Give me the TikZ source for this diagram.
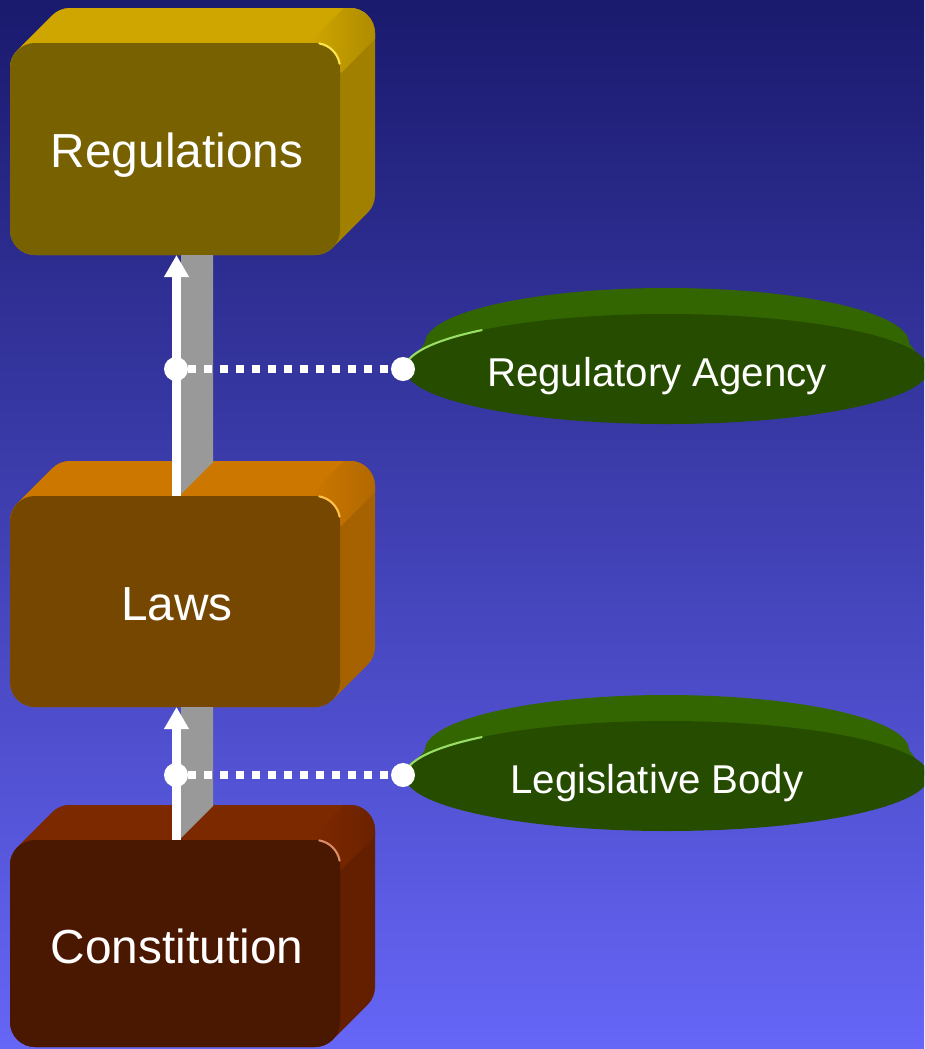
\documentclass[tikz,border=0pt]{standalone}
\usepackage{fontspec}
\setmainfont{Liberation Sans}
\usepackage{tikz}
\usetikzlibrary{arrows.meta}
\definecolor{bgtop}{rgb}{0.10,0.10,0.43}
\definecolor{bgbot}{rgb}{0.40,0.40,0.97}
\definecolor{regfront}{rgb}{0.47,0.38,0}
\definecolor{regtop}{rgb}{0.81,0.65,0}
\definecolor{regside}{rgb}{0.63,0.50,0}
\definecolor{regshine}{rgb}{0.89,0.73,0}
\definecolor{reglight}{rgb}{1,0.90,0.30}
\definecolor{lawfront}{rgb}{0.46,0.28,0}
\definecolor{lawtop}{rgb}{0.80,0.47,0}
\definecolor{lawside}{rgb}{0.65,0.38,0}
\definecolor{lawshine}{rgb}{0.88,0.53,0}
\definecolor{lawlight}{rgb}{1,0.75,0.30}
\definecolor{confront}{rgb}{0.29,0.09,0}
\definecolor{contop}{rgb}{0.49,0.16,0}
\definecolor{conside}{rgb}{0.39,0.12,0}
\definecolor{conshine}{rgb}{0.54,0.19,0}
\definecolor{conlight}{rgb}{0.85,0.55,0.40}
\definecolor{grnfront}{rgb}{0.15,0.30,0}
\definecolor{grnside}{rgb}{0.20,0.40,0}
\definecolor{grnlight}{rgb}{0.60,0.87,0.40}
\definecolor{shaftgray}{rgb}{0.60,0.60,0.60}

\begin{document}
\begin{tikzpicture}[line cap=round,line join=round,x=0.02cm,y=0.02cm,
  boxtext/.style={text=white,anchor=base,inner sep=0pt,font=\fontsize{27.2}{31}\selectfont},
  ovaltext/.style={text=white,anchor=base,inner sep=0pt,font=\fontsize{22.9}{27}\selectfont},
  dot/.style={circle,fill=white,minimum size=0.48cm,inner sep=0pt},
  uparrow/.style={white,line cap=butt,line width=0.17cm,-{Triangle[length=0.44cm,width=0.47cm]}},
  dotline/.style={white,line cap=butt,line width=0.16cm,dash pattern=on 0.16cm off 0.16cm},
  corner/.style={line width=1.2pt}]
	\clip(0,-1049) rectangle (924,0);
	\shade[top color=bgtop,bottom color=bgbot] (0,-1049) rectangle (924,0);
	% regulations box
	\fill[regside] (35,-255) arc[start angle=270,end angle=180,radius=25] -- ++(0,162) arc[start angle=180,end angle=135,radius=25] -- ++(35,35) arc[start angle=135,end angle=90,radius=25] -- ++(280,0) arc[start angle=90,end angle=0,radius=25] -- ++(0,-162) arc[start angle=0,end angle=-45,radius=25] -- ++(-35,-35) arc[start angle=-45,end angle=-90,radius=25] -- cycle;
	\begin{scope}
		\clip (35,-255) arc[start angle=270,end angle=180,radius=25] -- ++(0,162) arc[start angle=180,end angle=135,radius=25] -- ++(35,35) arc[start angle=135,end angle=90,radius=25] -- ++(280,0) arc[start angle=90,end angle=0,radius=25] -- ++(0,-162) arc[start angle=0,end angle=-45,radius=25] -- ++(-35,-35) arc[start angle=-45,end angle=-90,radius=25] -- cycle;
		\fill[regtop] (0,-110) -- (0,2) -- (385,2) -- (273,-110) -- cycle;
		\begin{scope}[shift={(332.7,-50.3)},rotate=-45]
			\shade[left color=regtop,middle color=regshine,right color=regside] (-22,-10) rectangle (22,80);
		\end{scope}
	\end{scope}
	\fill[regfront,rounded corners=0.5cm] (10,-43) rectangle (340,-255);
	\draw[reglight,corner] (339.6,-63.7) arc[start angle=10,end angle=80,radius=25];
	% laws box
	\fill[lawside] (35,-707) arc[start angle=270,end angle=180,radius=25] -- ++(0,161) arc[start angle=180,end angle=135,radius=25] -- ++(35,35) arc[start angle=135,end angle=90,radius=25] -- ++(280,0) arc[start angle=90,end angle=0,radius=25] -- ++(0,-161) arc[start angle=0,end angle=-45,radius=25] -- ++(-35,-35) arc[start angle=-45,end angle=-90,radius=25] -- cycle;
	\begin{scope}
		\clip (35,-707) arc[start angle=270,end angle=180,radius=25] -- ++(0,161) arc[start angle=180,end angle=135,radius=25] -- ++(35,35) arc[start angle=135,end angle=90,radius=25] -- ++(280,0) arc[start angle=90,end angle=0,radius=25] -- ++(0,-161) arc[start angle=0,end angle=-45,radius=25] -- ++(-35,-35) arc[start angle=-45,end angle=-90,radius=25] -- cycle;
		\fill[lawtop] (0,-563) -- (0,-451) -- (385,-451) -- (273,-563) -- cycle;
		\begin{scope}[shift={(332.7,-503.3)},rotate=-45]
			\shade[left color=lawtop,middle color=lawshine,right color=lawside] (-22,-10) rectangle (22,80);
		\end{scope}
	\end{scope}
	\fill[lawfront,rounded corners=0.5cm] (10,-496) rectangle (340,-707);
	\draw[lawlight,corner] (339.6,-516.7) arc[start angle=10,end angle=80,radius=25];
	% constitution box
	\fill[conside] (35,-1047) arc[start angle=270,end angle=180,radius=25] -- ++(0,157) arc[start angle=180,end angle=135,radius=25] -- ++(35,35) arc[start angle=135,end angle=90,radius=25] -- ++(280,0) arc[start angle=90,end angle=0,radius=25] -- ++(0,-157) arc[start angle=0,end angle=-45,radius=25] -- ++(-35,-35) arc[start angle=-45,end angle=-90,radius=25] -- cycle;
	\begin{scope}
		\clip (35,-1047) arc[start angle=270,end angle=180,radius=25] -- ++(0,157) arc[start angle=180,end angle=135,radius=25] -- ++(35,35) arc[start angle=135,end angle=90,radius=25] -- ++(280,0) arc[start angle=90,end angle=0,radius=25] -- ++(0,-157) arc[start angle=0,end angle=-45,radius=25] -- ++(-35,-35) arc[start angle=-45,end angle=-90,radius=25] -- cycle;
		\fill[contop] (0,-907) -- (0,-795) -- (385,-795) -- (273,-907) -- cycle;
		\begin{scope}[shift={(332.7,-847.3)},rotate=-45]
			\shade[left color=contop,middle color=conshine,right color=conside] (-22,-10) rectangle (22,80);
		\end{scope}
	\end{scope}
	\fill[confront,rounded corners=0.5cm] (10,-840) rectangle (340,-1047);
	\draw[conlight,corner] (339.6,-860.7) arc[start angle=10,end angle=80,radius=25];
	% box labels
	\node[boxtext] (regs) at (177,-167) {Regulations};
	\node[boxtext] (laws) at (177,-620) {Laws};
	\node[boxtext] (const) at (177,-963) {Constitution};
	% shafts between the boxes
	\fill[shaftgray] (181,-255) -- (213,-255) -- (213,-462) -- (181,-494) -- cycle;
	\fill[shaftgray] (181,-707) -- (213,-707) -- (213,-806) -- (181,-838) -- cycle;
	\coordinate (regbot) at (176.5,-255);
	\coordinate (lawtop) at (176.5,-496);
	\coordinate (lawbot) at (176.5,-707);
	\coordinate (contop) at (176.5,-840);
	\draw[uparrow] (lawtop) -- (regbot);
	\draw[uparrow] (contop) -- (lawbot);
	% green discs
	\fill[grnside] (405,-369) -- (425,-343) arc[start angle=180,end angle=0,x radius=242,y radius=55] -- (929,-369) -- cycle;
	\fill[grnfront] (667,-369) ellipse [x radius=262,y radius=55];
	\draw[grnlight,corner] (405,-369) arc[start angle=180,end angle=135,x radius=262,y radius=55];
	\fill[grnside] (405,-776) -- (425,-750) arc[start angle=180,end angle=0,x radius=242,y radius=55] -- (929,-776) -- cycle;
	\fill[grnfront] (667,-776) ellipse [x radius=262,y radius=55];
	\draw[grnlight,corner] (405,-776) arc[start angle=180,end angle=135,x radius=262,y radius=55];
	\node[ovaltext] (agency) at (657,-386) {Regulatory Agency};
	\node[ovaltext] (legis) at (657,-793) {Legislative Body};
	% links from the arrows to the discs
	\node[dot] (regdot) at (176,-369) {};
	\node[dot] (agencydot) at (403,-369) {};
	\node[dot] (lawdot) at (176,-775) {};
	\node[dot] (legisdot) at (403,-775) {};
	\draw[dotline] (regdot.east) -- (agencydot.west);
	\draw[dotline] (lawdot.east) -- (legisdot.west);
\end{tikzpicture}
\end{document}
